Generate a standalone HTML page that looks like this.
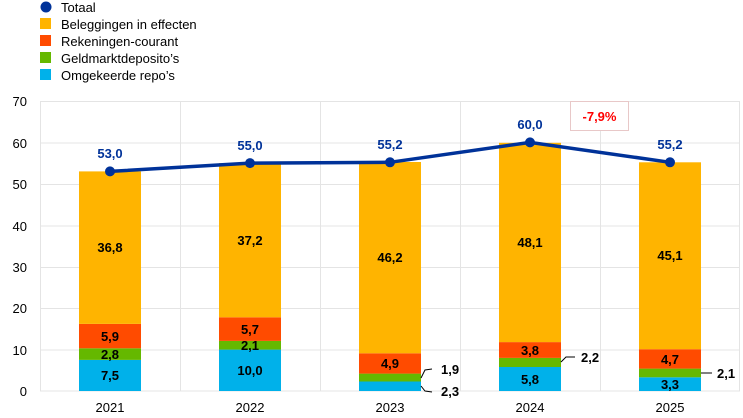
<!DOCTYPE html><html><head><meta charset="utf-8"><style>body{margin:0;background:#fff}svg{display:block;font-family:"Liberation Sans",Arial,sans-serif}</style></head><body>
<svg width="743" height="418" viewBox="0 0 743 418">
<g font-size="13" fill="#000">
<circle cx="46" cy="7" r="5.5" fill="#003299"/><text x="61" y="12">Totaal</text>
<rect x="40" y="18" width="11" height="11" fill="#ffb400"/><text x="61" y="29">Beleggingen in effecten</text>
<rect x="40" y="35" width="11" height="11" fill="#ff4b00"/><text x="61" y="46">Rekeningen-courant</text>
<rect x="40" y="52" width="11" height="11" fill="#65b800"/><text x="61" y="63">Geldmarktdeposito’s</text>
<rect x="40" y="69" width="11" height="11" fill="#00b1ea"/><text x="61" y="80">Omgekeerde repo’s</text>
</g>
<g stroke="#e4e4e4" stroke-width="1">
<line x1="40" y1="101.5" x2="740" y2="101.5"/><line x1="40" y1="143" x2="740" y2="143"/><line x1="40" y1="184.5" x2="740" y2="184.5"/><line x1="40" y1="226" x2="740" y2="226"/><line x1="40" y1="267.5" x2="740" y2="267.5"/><line x1="40" y1="308.5" x2="740" y2="308.5"/><line x1="40" y1="350" x2="740" y2="350"/><line x1="40" y1="391" x2="740" y2="391"/>
<line x1="40.5" y1="101" x2="40.5" y2="391"/><line x1="180.5" y1="101" x2="180.5" y2="391"/><line x1="320.5" y1="101" x2="320.5" y2="391"/><line x1="460.5" y1="101" x2="460.5" y2="391"/><line x1="600.5" y1="101" x2="600.5" y2="391"/><line x1="739.5" y1="101" x2="739.5" y2="391"/>
</g>
<g font-size="13" text-anchor="end">
<text x="27" y="106">70</text><text x="27" y="148">60</text><text x="27" y="189">50</text><text x="27" y="231">40</text><text x="27" y="272">30</text><text x="27" y="313">20</text><text x="27" y="355">10</text><text x="27" y="396">0</text>
</g>
<g font-size="13" text-anchor="middle">
<text x="110" y="412">2021</text><text x="250" y="412">2022</text><text x="390" y="412">2023</text><text x="530" y="412">2024</text><text x="670" y="412">2025</text>
</g>
<g>
<rect x="79" y="359.9" width="62" height="31.1" fill="#00b1ea"/><rect x="79" y="348.3" width="62" height="11.6" fill="#65b800"/><rect x="79" y="323.9" width="62" height="24.4" fill="#ff4b00"/><rect x="79" y="171.4" width="62" height="152.5" fill="#ffb400"/>
<rect x="219" y="349.6" width="62" height="41.4" fill="#00b1ea"/><rect x="219" y="340.9" width="62" height="8.7" fill="#65b800"/><rect x="219" y="317.3" width="62" height="23.6" fill="#ff4b00"/><rect x="219" y="163.1" width="62" height="154.2" fill="#ffb400"/>
<rect x="359" y="381.5" width="62" height="9.5" fill="#00b1ea"/><rect x="359" y="373.6" width="62" height="7.9" fill="#65b800"/><rect x="359" y="353.3" width="62" height="20.3" fill="#ff4b00"/><rect x="359" y="162" width="62" height="191.3" fill="#ffb400"/>
<rect x="499" y="367" width="62" height="24" fill="#00b1ea"/><rect x="499" y="357.9" width="62" height="9.1" fill="#65b800"/><rect x="499" y="342.1" width="62" height="15.8" fill="#ff4b00"/><rect x="499" y="142.8" width="62" height="199.3" fill="#ffb400"/>
<rect x="639" y="377.3" width="62" height="13.7" fill="#00b1ea"/><rect x="639" y="368.6" width="62" height="8.7" fill="#65b800"/><rect x="639" y="349.2" width="62" height="19.4" fill="#ff4b00"/><rect x="639" y="162.3" width="62" height="186.9" fill="#ffb400"/>
</g>
<g font-size="13" font-weight="bold" text-anchor="middle">
<text x="110" y="380">7,5</text><text x="110" y="359">2,8</text><text x="110" y="341">5,9</text><text x="110" y="252">36,8</text>
<text x="250" y="375">10,0</text><text x="250" y="350">2,1</text><text x="250" y="334">5,7</text><text x="250" y="245">37,2</text>
<text x="390" y="368">4,9</text><text x="390" y="262">46,2</text>
<text x="530" y="384">5,8</text><text x="530" y="355">3,8</text><text x="530" y="247">48,1</text>
<text x="670" y="389">3,3</text><text x="670" y="364">4,7</text><text x="670" y="260">45,1</text>
</g>
<g stroke="#000" stroke-width="1" fill="none">
<path d="M421 378 L425 370 L432 369"/><path d="M421 386 L425 391 L432 392"/>
<path d="M561 362 L566 357 L575 357"/><path d="M701 373 L712 373"/>
</g>
<g font-size="13" font-weight="bold">
<text x="441" y="374">1,9</text><text x="441" y="396">2,3</text><text x="581" y="362">2,2</text><text x="717" y="378">2,1</text>
</g>
<polyline points="110,171.4 250,163.1 390,162.3 530,142.4 670,162.3" fill="none" stroke="#003299" stroke-width="3.5"/>
<g fill="#003299"><circle cx="110" cy="171.4" r="5"/><circle cx="250" cy="163.1" r="5"/><circle cx="390" cy="162.3" r="5"/><circle cx="530" cy="142.4" r="5"/><circle cx="670" cy="162.3" r="5"/></g>
<g font-size="13" font-weight="bold" fill="#003299" text-anchor="middle">
<text x="110" y="158">53,0</text><text x="250" y="150">55,0</text><text x="390" y="149">55,2</text><text x="530" y="129">60,0</text><text x="670" y="149">55,2</text>
</g>
<rect x="570.5" y="101.5" width="58" height="29" fill="#fff" stroke="#e8c8c8"/>
<text x="599.5" y="121" font-size="13" font-weight="bold" fill="#ff0000" text-anchor="middle">-7,9%</text>
</svg>
</body></html>
